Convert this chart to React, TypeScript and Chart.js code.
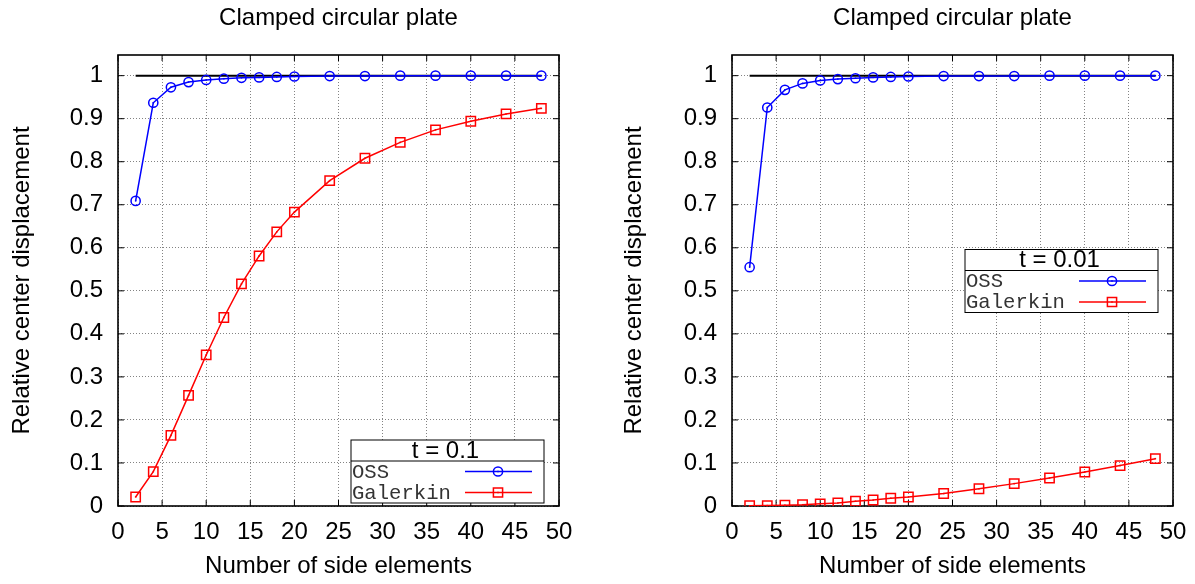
import React, { useEffect, useRef } from "react";
import { Chart, registerables } from "chart.js";

Chart.register(...registerables);

// ---------- data ----------
const sideElements = [2, 4, 6, 8, 10, 12, 14, 16, 18, 20, 24, 28, 32, 36, 40, 44, 48];

const ossThick = [0.709, 0.937, 0.973, 0.985, 0.990, 0.993, 0.995, 0.996, 0.997, 0.998, 0.999, 0.999, 1.0, 1.0, 1.0, 1.0, 1.0];
const galerkinThick = [0.021, 0.080, 0.164, 0.257, 0.351, 0.438, 0.516, 0.581, 0.637, 0.683, 0.756, 0.808, 0.845, 0.874, 0.894, 0.911, 0.924];

const ossThin = [0.555, 0.926, 0.967, 0.982, 0.989, 0.992, 0.994, 0.996, 0.997, 0.998, 0.999, 0.999, 0.999, 1.0, 1.0, 1.0, 1.0];
const galerkinThin = [0.0005, 0.001, 0.002, 0.003, 0.005, 0.007, 0.011, 0.014, 0.018, 0.021, 0.029, 0.040, 0.052, 0.065, 0.079, 0.094, 0.110];

const referenceX = [2, 48];
const referenceY = [1, 1];

const seriesNames = ["OSS", "Galerkin"];
const legendTitles = ["t = 0.1", "t = 0.01"];
const chartTitle = "Clamped circular plate";
const xAxisTitle = "Number of side elements";
const yAxisTitle = "Relative center displacement";

const xMin = 0;
const xMax = 50;
const xStep = 5;
const yMin = 0;
const yMax = 1.048;
const yStep = 0.1;

// ---------- styling ----------
const SANS = "'Liberation Sans', Arial, Helvetica, sans-serif";
const MONO = "'Liberation Mono', 'Courier New', monospace";
const BLUE = "#0000ff";
const RED = "#ff0000";

const CANVAS_W = 677;
const CANVAS_H = 584;

const toPoints = (xs: number[], ys: number[]) => xs.map((x, i) => ({ x, y: ys[i] }));

// frame + inward ticks (gnuplot style)
const framePlugin = {
  id: "frame",
  beforeDatasetsDraw(chart: any) {
    const { ctx, chartArea } = chart;
    const { left, right, top, bottom } = chartArea;
    const xs = chart.scales.x;
    const ys = chart.scales.y;
    ctx.save();
    ctx.strokeStyle = "#000";
    ctx.lineWidth = 1;
    ctx.setLineDash([]);
    const tl = 6;
    ctx.beginPath();
    xs.ticks.forEach((t: any) => {
      const px = xs.getPixelForValue(t.value);
      ctx.moveTo(px, bottom);
      ctx.lineTo(px, bottom - tl);
      ctx.moveTo(px, top);
      ctx.lineTo(px, top + tl);
    });
    ys.ticks.forEach((t: any) => {
      const py = ys.getPixelForValue(t.value);
      ctx.moveTo(left, py);
      ctx.lineTo(left + tl, py);
      ctx.moveTo(right, py);
      ctx.lineTo(right - tl, py);
    });
    ctx.stroke();
    ctx.lineWidth = 1.6;
    ctx.strokeRect(left, top, right - left, bottom - top);
    ctx.restore();
  },
};

// small centre dot inside the markers
const dotPlugin = {
  id: "centerDots",
  afterDatasetsDraw(chart: any) {
    const { ctx } = chart;
    ctx.save();
    chart.data.datasets.forEach((ds: any, i: number) => {
      if (!ds.centerDot) return;
      const meta = chart.getDatasetMeta(i);
      ctx.fillStyle = ds.borderColor;
      meta.data.forEach((el: any) => {
        ctx.fillRect(el.x - 0.75, el.y - 0.75, 1.5, 1.5);
      });
    });
    ctx.restore();
  },
};

// boxed legend with title row
const boxLegendPlugin = {
  id: "boxLegend",
  afterDraw(chart: any, _args: any, opts: any) {
    const { ctx, chartArea } = chart;
    const w = 193;
    const titleH = 21;
    const rowH = 21;
    const x0 = chartArea.left + 233;
    const y0 = chartArea.top + opts.offsetTop;
    const h = titleH + rowH * 2;
    ctx.save();
    ctx.setLineDash([]);
    ctx.fillStyle = "#fff";
    ctx.fillRect(x0, y0, w, h);
    ctx.strokeStyle = "#000";
    ctx.lineWidth = 1;
    ctx.strokeRect(x0, y0, w, h);
    ctx.beginPath();
    ctx.moveTo(x0, y0 + titleH);
    ctx.lineTo(x0 + w, y0 + titleH);
    ctx.stroke();

    ctx.fillStyle = "#000";
    ctx.font = `24px ${SANS}`;
    ctx.textAlign = "center";
    ctx.textBaseline = "middle";
    ctx.fillText(opts.title, x0 + w / 2 - 2, y0 + titleH / 2 + 0.5);

    const entries = [
      { label: seriesNames[0], color: BLUE, shape: "circle" },
      { label: seriesNames[1], color: RED, shape: "rect" },
    ];
    entries.forEach((e, i) => {
      const cy = y0 + titleH + rowH * i + rowH / 2;
      ctx.font = `20.6px ${MONO}`;
      ctx.textAlign = "left";
      ctx.fillStyle = "#333";
      ctx.fillText(e.label, x0 + 1, cy + 1);
      ctx.strokeStyle = e.color;
      ctx.lineWidth = 1.5;
      ctx.beginPath();
      ctx.moveTo(x0 + 114, cy);
      ctx.lineTo(x0 + 181, cy);
      ctx.stroke();
      const mx = x0 + 147;
      ctx.beginPath();
      if (e.shape === "circle") {
        ctx.arc(mx, cy, 4.6, 0, Math.PI * 2);
      } else {
        ctx.rect(mx - 4.6, cy - 4.6, 9.2, 9.2);
      }
      ctx.stroke();
      ctx.fillStyle = e.color;
      ctx.fillRect(mx - 0.75, cy - 0.75, 1.5, 1.5);
    });
    ctx.restore();
  },
};

type PanelProps = {
  oss: number[];
  galerkin: number[];
  legendTitle: string;
  legendTop: number;
  yTitlePad: number;
  left: number;
};

function Panel({ oss, galerkin, legendTitle, legendTop, yTitlePad, left }: PanelProps) {
  const ref = useRef<HTMLCanvasElement | null>(null);

  useEffect(() => {
    if (!ref.current) return;
    const gridColor = "rgba(90,90,90,0.75)";
    const chart = new Chart(ref.current, {
      type: "line",
      data: {
        datasets: [
          {
            label: seriesNames[0],
            data: toPoints(sideElements, oss),
            borderColor: BLUE,
            backgroundColor: "rgba(0,0,0,0)",
            borderWidth: 1.5,
            pointStyle: "circle",
            pointRadius: 4.6,
            pointBorderWidth: 1.5,
            pointBackgroundColor: "rgba(0,0,0,0)",
            pointBorderColor: BLUE,
            tension: 0,
            order: 1,
            centerDot: true,
          } as any,
          {
            label: seriesNames[1],
            data: toPoints(sideElements, galerkin),
            borderColor: RED,
            backgroundColor: "rgba(0,0,0,0)",
            borderWidth: 1.5,
            pointStyle: "rect",
            pointRadius: 6.6,
            pointBorderWidth: 1.5,
            pointBackgroundColor: "rgba(0,0,0,0)",
            pointBorderColor: RED,
            tension: 0,
            order: 2,
            centerDot: true,
          } as any,
          {
            label: "reference",
            data: toPoints(referenceX, referenceY),
            borderColor: "#000",
            borderWidth: 2,
            pointRadius: 0,
            tension: 0,
            order: 3,
          },
        ],
      },
      options: {
        responsive: false,
        animation: false,
        devicePixelRatio: 1,
        layout: { padding: { left: 0, right: 118, top: 0, bottom: 0 } },
        plugins: {
          legend: { display: false },
          tooltip: { enabled: false },
          title: {
            display: true,
            fullSize: false,
            text: chartTitle,
            color: "#000",
            font: { family: SANS, size: 24, weight: "normal" },
            padding: { top: 4, bottom: 22.2 },
          },
          boxLegend: { title: legendTitle, offsetTop: legendTop },
        } as any,
        scales: {
          x: {
            type: "linear",
            min: xMin,
            max: xMax,
            afterFit: (s: any) => {
              s.height = 78;
            },
            ticks: {
              stepSize: xStep,
              padding: 12,
              color: "#000",
              font: { family: SANS, size: 24 },
              maxRotation: 0,
            },
            grid: { color: gridColor, lineWidth: 1, drawTicks: false },
            border: { display: false, dash: [1, 2] },
            title: {
              display: true,
              text: xAxisTitle,
              color: "#000",
              font: { family: SANS, size: 24 },
              padding: { top: 3, bottom: 3 },
            },
          },
          y: {
            type: "linear",
            min: yMin,
            max: yMax,
            afterFit: (s: any) => {
              s.width = 118;
            },
            ticks: {
              stepSize: yStep,
              includeBounds: false,
              padding: 15,
              color: "#000",
              font: { family: SANS, size: 24 },
              callback: (v: any) => String(Number(Number(v).toFixed(1))),
            },
            grid: { color: gridColor, lineWidth: 1, drawTicks: false },
            border: { display: false, dash: [1, 2] },
            title: {
              display: true,
              text: yAxisTitle,
              color: "#000",
              font: { family: SANS, size: 24 },
              padding: { top: yTitlePad, bottom: yTitlePad },
            },
          },
        },
      },
      plugins: [framePlugin, dotPlugin, boxLegendPlugin],
    });
    return () => chart.destroy();
  }, [oss, galerkin, legendTitle, legendTop, yTitlePad]);

  return (
    <canvas
      ref={ref}
      width={CANVAS_W}
      height={CANVAS_H}
      style={{ position: "absolute", left, top: 0, width: CANVAS_W, height: CANVAS_H }}
    />
  );
}

export default function App() {
  return (
    <div
      style={{
        position: "fixed",
        left: 0,
        top: 0,
        width: 1195,
        height: 584,
        overflow: "hidden",
        background: "#fff",
      }}
    >
      <Panel oss={ossThick} galerkin={galerkinThick} legendTitle={legendTitles[0]} legendTop={385} yTitlePad={8} left={0} />
      <Panel oss={ossThin} galerkin={galerkinThin} legendTitle={legendTitles[1]} legendTop={194.5} yTitlePad={6} left={614} />
    </div>
  );
}
